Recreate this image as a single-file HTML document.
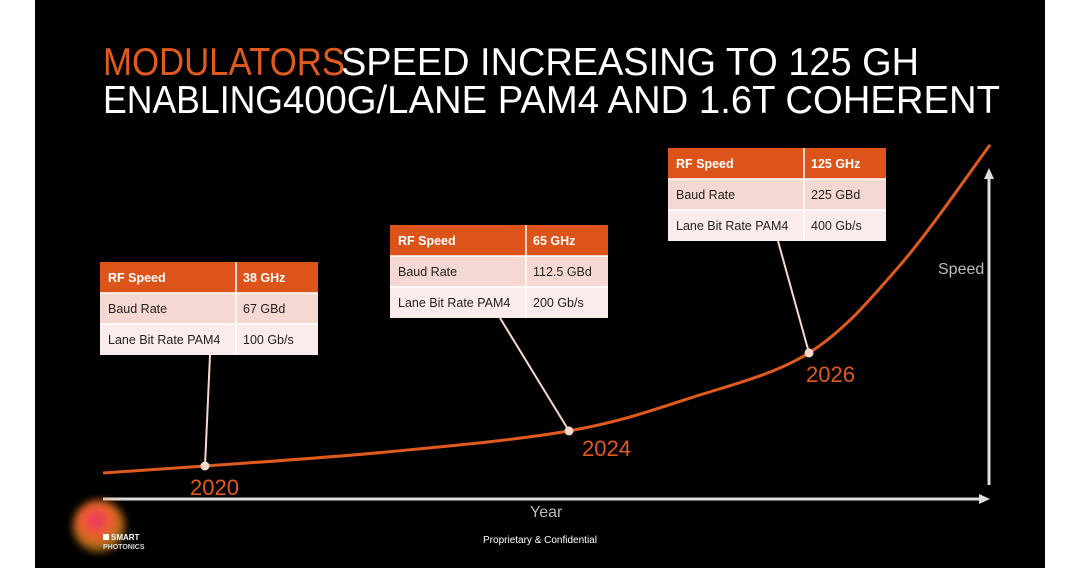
<!DOCTYPE html>
<html><head><meta charset="utf-8"><style>
html,body{margin:0;padding:0;background:#fff;}
#slide{position:absolute;left:35px;top:0;width:1010px;height:568px;background:#000;}
svg{position:absolute;left:0;top:0;}
</style></head><body>
<div id="slide"></div>
<svg id="chart" width="1080" height="568" font-family="'Liberation Sans', sans-serif">
<defs>
<radialGradient id="lg" cx="45%" cy="40%" r="55%">
<stop offset="0" stop-color="#e8306a"/><stop offset="0.55" stop-color="#f0602a"/><stop offset="1" stop-color="#f5a020" stop-opacity="0.6"/>
</radialGradient>
<filter id="bl"><feGaussianBlur stdDeviation="4"/></filter>
</defs>
<g font-size="39">
<text x="103" y="75" fill="#e05a1e" textLength="242" lengthAdjust="spacingAndGlyphs">MODULATORS</text>
<text x="341" y="75" fill="#fff" textLength="578" lengthAdjust="spacingAndGlyphs">SPEED INCREASING TO 125 GH</text>
<text x="103" y="113" fill="#fff" textLength="180" lengthAdjust="spacingAndGlyphs">ENABLING</text>
<text x="283" y="113" fill="#fff" textLength="717" lengthAdjust="spacingAndGlyphs">400G/LANE PAM4 AND 1.6T COHERENT</text>
</g>
<g stroke="#ddd" stroke-width="3" fill="#ddd">
<line x1="103" y1="499" x2="982" y2="499"/>
<polygon points="990,499 979,494 979,504" stroke="none"/>
<line x1="989" y1="178" x2="989" y2="485"/>
<polygon points="989,168 984,179 994,179" stroke="none"/>
</g>
<text x="938" y="274" fill="#bbb" font-size="16">Speed</text>
<text x="530" y="517" fill="#bbb" font-size="16">Year</text>
<g id="plot"></g>
<g>
<circle cx="99" cy="526" r="26" fill="url(#lg)" filter="url(#bl)"/>
<rect x="103" y="534" width="6" height="6" fill="#fff"/>
<text x="111" y="540" fill="#fff" font-size="8" font-weight="bold">SMART</text>
<text x="103" y="549" fill="#ddd" font-size="7" font-weight="bold">PHOTONICS</text>
</g>
<text x="540" y="543" fill="#fff" font-size="10" text-anchor="middle">Proprietary &amp; Confidential</text>
</svg>
<script>
const curveYears = [2018.96, 2020, 2022, 2024, 2025, 2026, 2027, 2028];
const curveSpeeds = [32.6, 38, 48.8, 65, 90, 125, 192, 285];
const milestoneYears = [2020, 2024, 2026];
const milestoneSpeeds = [38, 65, 125];
const rfSpeeds = ['38 GHz', '65 GHz', '125 GHz'];
const baudRates = ['67 GBd', '112.5 GBd', '225 GBd'];
const laneRates = ['100 Gb/s', '200 Gb/s', '400 Gb/s'];
const tablePos = [[100,262],[390,225],[668,148]];
const labelOffsets = [[-15,29],[13,25],[-3,29]];

// schematic (non-uniform) time axis
const xDomain = [2018.96, 2020, 2024, 2026, 2028];
const xRange = [103, 205, 569, 809, 990];
function xS(y){
  for(let i=0;i<xDomain.length-1;i++){
    if(y<=xDomain[i+1]||i===xDomain.length-2){
      const t=(y-xDomain[i])/(xDomain[i+1]-xDomain[i]);
      return xRange[i]+t*(xRange[i+1]-xRange[i]);
    }
  }
}
const yS = s => 466 - (s - 38) * 1.3;
const NS = 'http://www.w3.org/2000/svg';
const plot = document.getElementById('plot');
function mk(tag, attrs, parent){const e=document.createElementNS(NS,tag);for(const k in attrs)e.setAttribute(k,attrs[k]);(parent||plot).appendChild(e);return e;}

const pts = curveYears.map((y,i)=>[xS(y), yS(curveSpeeds[i])]);
let d = `M${pts[0][0]},${pts[0][1]}`;
for(let i=0;i<pts.length-1;i++){
  const p0=pts[Math.max(0,i-1)],p1=pts[i],p2=pts[i+1],p3=pts[Math.min(pts.length-1,i+2)];
  const c1=[p1[0]+(p2[0]-p0[0])/6,p1[1]+(p2[1]-p0[1])/6];
  const c2=[p2[0]-(p3[0]-p1[0])/6,p2[1]-(p3[1]-p1[1])/6];
  d+=` C${c1[0]},${c1[1]} ${c2[0]},${c2[1]} ${p2[0]},${p2[1]}`;
}
const curve = mk('path',{d:d,fill:'none',stroke:'#e05a1e','stroke-width':3});



milestoneYears.forEach((yr,i)=>{
  const cx=xS(yr), cy=yS(milestoneSpeeds[i]);
  const [tx,ty]=tablePos[i];
  const leader = mk('line',{x1:tx+110,y1:ty+93,x2:cx,y2:cy,stroke:'#f8d8cc','stroke-width':2});
  
  
  const dot = mk('circle',{cx:cx,cy:cy,r:4.5,fill:'#f8d8cc'});
  
  
  const lbl = mk('text',{x:cx+labelOffsets[i][0],y:cy+labelOffsets[i][1],fill:'#e05a1e','font-size':22});
  lbl.textContent = yr;
  
  

  const g = mk('g',{});
  
  
  const rows=[['RF Speed',rfSpeeds[i],'#dd541a','#fff','bold'],['Baud Rate',baudRates[i],'#f6d8d2','#222','normal'],['Lane Bit Rate PAM4',laneRates[i],'#fbebea','#222','normal']];
  rows.forEach((r,j)=>{
    const ry=ty+j*31;
    const rc = mk('rect',{x:tx,y:ry,width:218,height:31,fill:r[2]},g);
    
    
    const t1 = mk('text',{x:tx+8,y:ry+20,fill:r[3],'font-size':12.5,'font-weight':r[4]},g);
    t1.textContent=r[0];
    
    
    const t2 = mk('text',{x:tx+143,y:ry+20,fill:r[3],'font-size':12.5,'font-weight':r[4]},g);
    t2.textContent=r[1];
    
    
  });
  const sep = mk('line',{x1:tx+136,y1:ty,x2:tx+136,y2:ty+93,stroke:'#fff','stroke-width':1.5},g);
  
  
  [31,62].forEach(o=>{
    const hl = mk('line',{x1:tx,y1:ty+o,x2:tx+218,y2:ty+o,stroke:'#fff','stroke-width':1.5},g);
    
    
  });
});
</script>
</body></html>
